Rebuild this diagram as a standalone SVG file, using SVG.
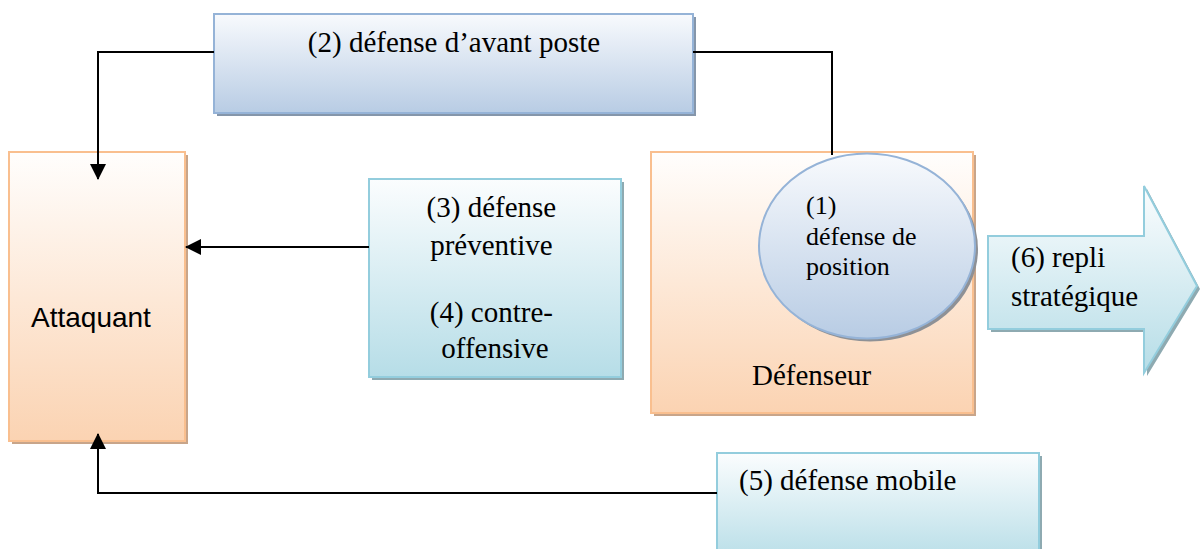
<svg xmlns="http://www.w3.org/2000/svg" width="1202" height="549" viewBox="0 0 1202 549">
  <defs>
    <linearGradient id="gPeach" x1="0" y1="0" x2="0" y2="1">
      <stop offset="0" stop-color="#fffefd"/>
      <stop offset="1" stop-color="#fbd3b2"/>
    </linearGradient>
    <linearGradient id="gBlue" x1="0" y1="0" x2="0" y2="1">
      <stop offset="0" stop-color="#f8fafd"/>
      <stop offset="1" stop-color="#b8cce4"/>
    </linearGradient>
    <linearGradient id="gTeal" x1="0" y1="0" x2="0" y2="1">
      <stop offset="0" stop-color="#fbfdfe"/>
      <stop offset="1" stop-color="#b6dde7"/>
    </linearGradient>
    <marker id="arrow" viewBox="0 0 16 16" refX="15" refY="8" markerWidth="16" markerHeight="16" markerUnits="userSpaceOnUse" orient="auto">
      <path d="M0,0 L16,8 L0,16 Z" fill="#000"/>
    </marker>
  </defs>
  <style>
    .tm { font-family: 'Liberation Serif', 'DejaVu Serif', serif; font-size: 29px; fill: #000; }
    .small { font-size: 26px; }
    .sans { font-family: 'Liberation Sans', 'DejaVu Sans', sans-serif; font-size: 28px; fill: #000; }
    .peach { fill: url(#gPeach); stroke: #f9bf8f; stroke-width: 2; }
    .peachShadow { fill: #c8a58a; }
    .blue { fill: url(#gBlue); stroke: #95b3d7; stroke-width: 2; }
    .blueShadow { fill: #8596aa; }
    .teal { fill: url(#gTeal); stroke: #93cddd; stroke-width: 2; }
    .tealShadow { fill: #8eaab1; }
    .link { fill: none; stroke: #000; stroke-width: 2; }
  </style>

  <rect width="1202" height="549" fill="#ffffff"/>

  <!-- (2) outpost defence -->
  <g id="n-avant-poste">
    <rect class="blueShadow" x="217" y="17" width="479" height="99"/>
    <rect class="blue" x="214" y="14" width="479" height="99"/>
    <text class="tm" font-family="Liberation Serif, serif" x="454" y="52" text-anchor="middle">(2) défense d’avant poste</text>
  </g>

  <!-- attacker -->
  <g id="n-attaquant">
    <rect class="peachShadow" x="12" y="155" width="176" height="289"/>
    <rect class="peach" x="9" y="152" width="176" height="289"/>
    <text class="sans" x="31" y="327">Attaquant</text>
  </g>

  <!-- (3) pre-emptive defence / (4) counter-offensive -->
  <g id="n-preventive">
    <rect class="tealShadow" x="372" y="182" width="252" height="198"/>
    <rect class="teal" x="369" y="179" width="252" height="198"/>
    <text class="tm" font-family="Liberation Serif, serif" text-anchor="middle">
      <tspan x="495" y="217">(3) défense</tspan>
      <tspan x="495" y="255">préventive</tspan>
      <tspan x="495" y="322">(4) contre-</tspan>
      <tspan x="495" y="358">offensive</tspan>
    </text>
  </g>

  <!-- defender -->
  <g id="n-defenseur">
    <rect class="peachShadow" x="654" y="155" width="322" height="261"/>
    <rect class="peach" x="651" y="152" width="322" height="261"/>
    <text class="tm" font-family="Liberation Serif, serif" x="752" y="385">Défenseur</text>
  </g>

  <!-- (1) position defence -->
  <g id="n-position">
    <ellipse cx="870" cy="249" rx="108" ry="92.5" fill="#8e9196"/>
    <ellipse class="blue" cx="867" cy="246" rx="108" ry="92.5"/>
    <text class="tm small" font-family="Liberation Serif, serif">
      <tspan x="806" y="214">(1)</tspan>
      <tspan x="806" y="245">défense de</tspan>
      <tspan x="806" y="275">position</tspan>
    </text>
  </g>

  <!-- (6) strategic withdrawal -->
  <g id="n-repli">
    <path class="tealShadow" d="M991,239 L1147,239 L1147,189 L1200,289 L1147,376 L1147,332 L991,332 Z"/>
    <path class="teal" d="M988,236 L1144,236 L1144,186 L1197,286 L1144,373 L1144,329 L988,329 Z"/>
    <text class="tm" font-family="Liberation Serif, serif">
      <tspan x="1011" y="267">(6) repli</tspan>
      <tspan x="1011" y="306">stratégique</tspan>
    </text>
  </g>

  <!-- (5) mobile defence -->
  <g id="n-mobile">
    <rect class="tealShadow" x="720" y="456" width="322" height="110"/>
    <rect class="teal" x="717" y="453" width="322" height="110"/>
    <text class="tm" font-family="Liberation Serif, serif" x="739" y="490">(5) défense mobile</text>
  </g>

  <!-- connectors, drawn last so the arrowheads sit on top of the boxes -->
  <g id="connectors">
    <polyline class="link" points="214,52 98,52 98,179" marker-end="url(#arrow)"/>
    <polyline class="link" points="693,52 832,52 832,155"/>
    <line class="link" x1="369" y1="247" x2="186" y2="247" marker-end="url(#arrow)"/>
    <polyline class="link" points="717,493 98,493 98,434" marker-end="url(#arrow)"/>
  </g>
</svg>
